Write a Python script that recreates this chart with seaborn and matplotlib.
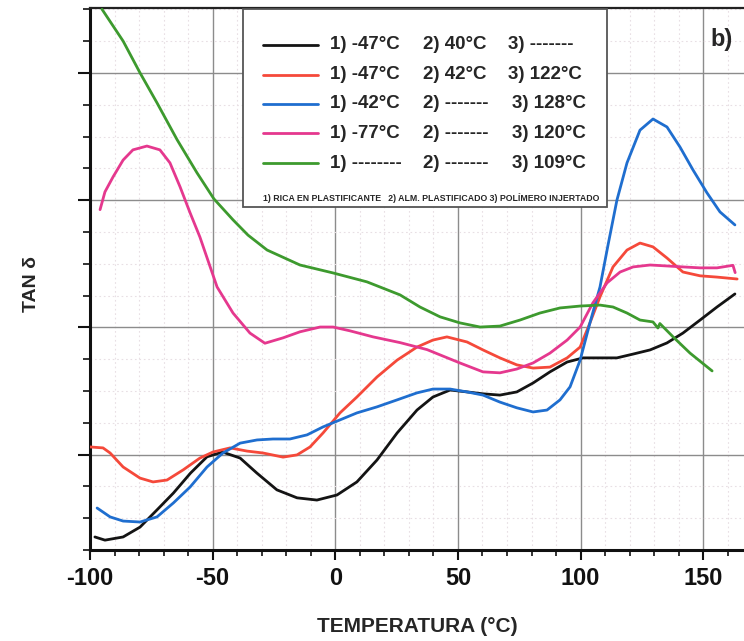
import numpy as np
import pandas as pd
import matplotlib
matplotlib.use("Agg")
import matplotlib.pyplot as plt
import seaborn as sns
from matplotlib.patches import Rectangle
from matplotlib.lines import Line2D
from matplotlib.ticker import MultipleLocator, FixedLocator

# ---------------- data ----------------
black_x = [-98, -93.9, -86.5, -79.6, -72.7, -66, -59, -52.3, -46, -38.8, -32, -23.8, -15.6, -7.5, 0.7,
           8.8, 17, 25.2, 33.3, 39.8, 46.8, 53.7, 60.2, 67.1, 74, 80.6, 87.5, 94.5, 101, 107.9, 114.8,
           121.4, 128.3, 135.2, 141.7, 148.7, 155.6, 162.9]
black_y = [0.41, 0.31, 0.41, 0.72, 1.26, 1.79, 2.42, 2.93, 3.08, 2.89, 2.42, 1.89, 1.64, 1.57, 1.73,
           2.14, 2.83, 3.68, 4.40, 4.81, 5.03, 4.97, 4.91, 4.87, 4.97, 5.25, 5.6, 5.91, 6.04, 6.04, 6.04,
           6.16, 6.29, 6.51, 6.82, 7.23, 7.64, 8.05]

red_x = [-100, -94.7, -91.8, -86.5, -79.6, -74.3, -68.6, -62, -55.2, -49.9, -42.9, -36, -29.5, -21.3,
         -15.6, -10.3, -5, 1.9, 8.8, 17, 25.2, 33.3, 39.8, 45.5, 53.7, 60.2, 67.1, 74, 80.6, 87.5, 94.5,
         99.8, 103.8, 107.9, 113.2, 118.9, 124.2, 129.5, 135.2, 141.7, 148.7, 155.6, 163.8]
red_y = [3.24, 3.21, 3.05, 2.61, 2.26, 2.14, 2.2, 2.52, 2.89, 3.08, 3.21, 3.11, 3.05, 2.92,
         2.99, 3.24, 3.68, 4.31, 4.81, 5.44, 5.97, 6.38, 6.6, 6.7, 6.54, 6.29, 6.04, 5.82, 5.72, 5.75, 6.04,
         6.38, 7.14, 7.96, 8.9, 9.43, 9.65, 9.53, 9.18, 8.74, 8.62, 8.58, 8.52]

blue_x = [-97.1, -91.8, -86.5, -79.6, -72.7, -66, -59.2, -52.3, -45.8, -38.8, -31.9, -25.4, -18.5, -11.5,
          -5, 1.9, 8.8, 17, 25.2, 33.3, 39.8, 46.8, 53.7, 60.2, 67.1, 74, 80.6, 86.3, 91.6, 95.7, 99.8,
          103.8, 107.9, 111.2, 114.8, 118.9, 124.2, 129.5, 135.2, 140.5, 145.8, 151.5, 156.8, 162.9]
blue_y = [1.32, 1.04, 0.91, 0.88, 1.04, 1.48, 1.98, 2.61, 3.05, 3.36, 3.46, 3.49, 3.49, 3.62,
          3.87, 4.09, 4.31, 4.5, 4.72, 4.94, 5.06, 5.06, 4.97, 4.87, 4.65, 4.47, 4.34, 4.40, 4.72, 5.13, 5.97,
          7.14, 8.27, 9.6, 11.0, 12.17, 13.2, 13.55, 13.3, 12.67, 11.95, 11.23, 10.63, 10.22]

pink_x = [-95.9, -93.9, -90.6, -86.5, -82.5, -76.8, -71.5, -67.4, -63.3, -59.2, -55.2, -48.2, -41.7,
          -34.8, -28.7, -21.3, -14.4, -6.2, -0.9, 6, 15.4, 26.4, 37.4, 50.8, 60.2, 67.1, 74, 80.6, 87.5,
          94.5, 99.8, 105, 110.8, 116.1, 121.4, 128.3, 135.2, 141.7, 148.7, 155.6, 162.1, 163]
pink_y = [10.7, 11.26, 11.73, 12.26, 12.58, 12.7, 12.58, 12.17, 11.42, 10.6, 9.84, 8.27, 7.45,
          6.82, 6.5, 6.67, 6.86, 7.01, 7.01, 6.89, 6.7, 6.52, 6.3, 5.88, 5.6, 5.57, 5.69, 5.88, 6.19,
          6.6, 7.01, 7.77, 8.4, 8.74, 8.9, 8.96, 8.93, 8.9, 8.87, 8.87, 8.95, 8.72]

green_x = [-95.1, -86.5, -79.6, -72.7, -64.5, -56.4, -49.5, -41.7, -35.6, -27.8, -14.4, -0.9, 12.9,
           26.4, 34.5, 42.7, 50.8, 59, 67.1, 75.3, 83.4, 91.6, 99.8, 107.9, 113.2, 118.9, 124.2, 129.5,
           131.5, 132.3, 137.7, 144.6, 153.6]
green_y = [17.0, 16.0, 15.0, 14.06, 12.9, 11.86, 11.04, 10.38, 9.9, 9.43, 8.96, 8.71, 8.43,
           8.02, 7.64, 7.33, 7.14, 7.01, 7.04, 7.23, 7.45, 7.61, 7.67, 7.7, 7.64, 7.45, 7.23, 7.17,
           6.98, 7.12, 6.7, 6.19, 5.63]

series_names = ["negro", "rojo", "azul", "rosa", "verde"]
series_colors = ["#141414", "#f5493a", "#1f6ecf", "#e5388e", "#3d9a2e"]

col1 = ["1) -47°C", "1) -47°C", "1) -42°C", "1) -77°C", "1) --------"]
col2 = ["2) 40°C", "2) 42°C", "2) -------", "2) -------", "2) -------"]
col3 = ["3) -------", "3) 122°C", "3) 128°C", "3) 120°C", "3) 109°C"]
note = "1) RICA EN PLASTIFICANTE   2) ALM. PLASTIFICADO 3) POLÍMERO INJERTADO"

x_ticks = [-100, -50, 0, 50, 100, 150]
x_label = "TEMPERATURA (°C)"
y_label = "TAN δ"
panel = "b)"

frames = []
for name, xs, ys in zip(series_names,
                        [black_x, red_x, blue_x, pink_x, green_x],
                        [black_y, red_y, blue_y, pink_y, green_y]):
    frames.append(pd.DataFrame({"T": xs, "tan": ys, "serie": name}))
df = pd.concat(frames, ignore_index=True)

# ---------------- style ----------------
sns.set_style("white")
plt.rcParams["font.family"] = ["Liberation Sans", "DejaVu Sans"]
plt.rcParams["font.weight"] = "bold"

fig = plt.figure(figsize=(7.44, 6.41), dpi=100)
ax = fig.add_axes([90 / 744, 91 / 641, 654 / 744, 542 / 641])

sns.lineplot(data=df, x="T", y="tan", hue="serie", hue_order=series_names,
             palette=dict(zip(series_names, series_colors)), sort=False, estimator=None,
             units="serie", linewidth=2.0, legend=False, ax=ax, zorder=3)

ax.set_xlim(-100, 166.6)
ax.set_ylim(0, 17.04)

ax.xaxis.set_major_locator(FixedLocator(x_ticks))
ax.xaxis.set_minor_locator(MultipleLocator(10))
ax.yaxis.set_major_locator(FixedLocator([3, 7, 11, 15]))
ax.yaxis.set_minor_locator(MultipleLocator(1))
ax.set_xticklabels([str(t) for t in x_ticks], fontsize=17, fontweight="bold")
ax.set_yticklabels([])

ax.tick_params(axis="x", which="major", direction="out", length=7, width=1.5, pad=5, colors="#111")
ax.tick_params(axis="x", which="minor", direction="out", length=4, width=1.2, colors="#111")
ax.tick_params(axis="y", which="major", direction="out", length=9, width=1.5, colors="#111")
ax.tick_params(axis="y", which="minor", direction="out", length=5, width=1.2, colors="#111")
ax.tick_params(axis="both", which="both", bottom=True, left=True, top=False, right=False)

ax.set_axisbelow(True)
ax.grid(True, which="major", color="#8c8c8c", linewidth=1.0, linestyle="-")
ax.grid(True, which="minor", color="#e8dfe4", linewidth=0.8, linestyle=(0, (1.5, 2.5)))

for s in ["left", "bottom"]:
    ax.spines[s].set_linewidth(2.2)
    ax.spines[s].set_color("#111")
ax.spines["top"].set_linewidth(1.6)
ax.spines["top"].set_color("#222")
ax.spines["right"].set_visible(False)

ax.set_xlabel(x_label, fontsize=15, fontweight="bold", labelpad=20)
ax.set_ylabel(y_label, fontsize=14, fontweight="bold")
ax.yaxis.set_label_coords(-0.076, 0.49)

# panel letter
ax.text(0.948, 0.941, panel, transform=ax.transAxes, fontsize=17, fontweight="bold",
        ha="left", va="center", zorder=6)

# ---------------- custom legend box ----------------
ax.add_patch(Rectangle((0.234, 0.633), 0.556, 0.365, transform=ax.transAxes,
                       facecolor="white", edgecolor="#555555", linewidth=1.3, zorder=4))
row_y = [0.932, 0.877, 0.823, 0.769, 0.714]
col3_x = [0.639, 0.639, 0.646, 0.646, 0.646]
for i, (c, a, b, d) in enumerate(zip(series_colors, col1, col2, col3)):
    ax.add_line(Line2D([0.2645, 0.3486], [row_y[i], row_y[i]], transform=ax.transAxes,
                       color=c, linewidth=2.0, zorder=5))
    ax.text(0.367, row_y[i], a, transform=ax.transAxes, fontsize=13.5, fontweight="bold",
            ha="left", va="center", zorder=5)
    ax.text(0.509, row_y[i], b, transform=ax.transAxes, fontsize=13.5, fontweight="bold",
            ha="left", va="center", zorder=5)
    ax.text(col3_x[i], row_y[i], d, transform=ax.transAxes, fontsize=13.5, fontweight="bold",
            ha="left", va="center", zorder=5)
ax.text(0.2645, 0.650, note, transform=ax.transAxes, fontsize=6.3, fontweight="bold",
        ha="left", va="center", zorder=5)

fig.savefig("out.png", dpi=100, facecolor="white")
